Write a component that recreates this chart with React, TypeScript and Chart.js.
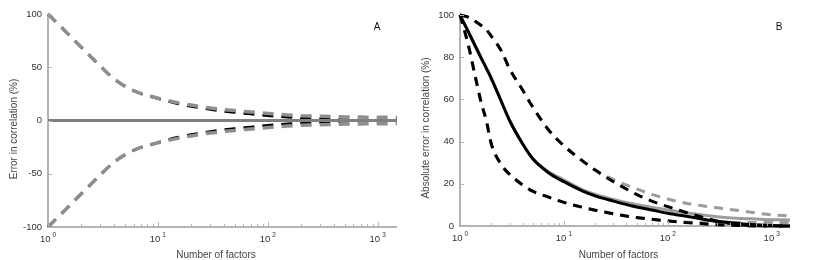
import React, { useEffect, useRef } from 'react';
import { Chart, registerables } from 'chart.js';

Chart.register(...registerables);

// ---------- Panel A data ----------
const factorsA = [1, 1.5, 2, 3, 4, 6, 10, 15, 20, 30, 50, 70, 100, 150, 200, 300, 500, 700, 1000, 1500];
const aMeanError = [0, 0, 0, 0, 0, 0, 0, 0, 0, 0, 0, 0, 0, 0, 0, 0, 0, 0, 0, 0];
const aGrayUpper = [100, 82, 69, 51, 39, 28, 21, 16.8, 14.5, 11.7, 9.3, 8, 6.6, 5.2, 4.5, 3.9, 3.4, 3.2, 3, 2.9];
const aGrayLower = [-100, -82, -69, -51, -39, -28, -21, -16.8, -14.5, -11.7, -9.3, -8, -6.6, -5.2, -4.5, -3.9, -3.4, -3.2, -3, -2.9];
const aBlackUpper = [100, 82, 69, 51, 39, 28, 20.5, 15.8, 13.2, 10.3, 7.4, 6, 4.4, 3.1, 2.4, 1.5, 0.8, 0.5, 0.3, 0.2];
const aBlackLower = [-100, -82, -69, -51, -39, -28, -20.5, -15.8, -13.2, -10.3, -7.4, -6, -4.4, -3.1, -2.4, -1.5, -0.8, -0.5, -0.3, -0.2];
const aYTicks = [-100, -50, 0, 50, 100];

// ---------- Panel B data ----------
const factorsB = [1, 1.2, 1.4, 1.6, 1.8, 2, 2.5, 3, 4, 5, 7, 10, 15, 20, 30, 50, 70, 100, 150, 200, 300, 500, 700, 1000, 1500];
const bMeanBlack = [100, 92.1, 85.4, 79.6, 74.6, 70, 59, 50, 39, 32, 25.5, 21, 16.7, 14.3, 11.8, 9, 7.6, 6, 4.6, 3.6, 2.2, 1.1, 0.6, 0.2, 0];
const bMeanGray = [100, 92.1, 85.4, 79.6, 74.6, 70, 59, 50, 39, 32, 26, 21.8, 17.2, 15, 12.6, 10.2, 8.9, 7.6, 6.3, 5.4, 4.4, 3.6, 3.3, 3.0, 2.9];
const bUpperBlack = [100, 99, 97, 95, 93, 90, 83, 74.5, 64.5, 56.5, 46, 38, 31, 26.5, 21, 15, 11.8, 9.2, 6.4, 4.6, 2.3, 0.5, 0.1, 0, 0];
const bUpperGray = [100, 99, 97, 95, 93, 90, 83, 74.5, 64.5, 56.5, 46, 38, 31, 26.5, 22, 17.6, 15, 12.8, 10.8, 9.8, 8.6, 7.2, 6.2, 5.3, 4.8];
const bLowerBlack = [100, 86, 71, 58.5, 49.5, 39, 29, 24.5, 19.5, 16.5, 13.8, 11.2, 8.9, 7.5, 5.8, 4, 3.2, 2.4, 1.6, 1.2, 0.6, 0.2, 0, 0, 0];
const bLowerGray = [100, 86, 71, 58.5, 49.5, 39, 29, 24.5, 19.5, 16.5, 13.8, 11.2, 8.9, 7.5, 5.8, 4, 3.2, 2.4, 1.9, 1.7, 1.6, 1.6, 1.6, 1.6, 1.6];
const bYTicks = [0, 20, 40, 60, 80, 100];

const xExponents = [0, 1, 2, 3];
const X_MIN = 1;
const X_MAX = 1500;

const AXIS_COLOR = '#b3b3b3';
const LABEL_COLOR = '#333333';
const FONT = '"Liberation Sans", Arial, Helvetica, sans-serif';

const toPoints = (xs: number[], ys: number[]) => xs.map((x, i) => ({ x, y: ys[i] }));

const axisDecor = {
  id: 'axisDecor',
  beforeDatasetsDraw(chart: any) {
    const { ctx, chartArea: a } = chart;
    ctx.save();
    ctx.strokeStyle = AXIS_COLOR;
    ctx.lineWidth = 2;
    ctx.beginPath();
    ctx.moveTo(a.left, a.top);
    ctx.lineTo(a.left, a.bottom);
    ctx.lineTo(a.right, a.bottom);
    ctx.stroke();
    ctx.restore();
  },
  afterDraw(chart: any, _args: any, opts: any) {
    const { ctx, chartArea: a, scales } = chart;
    const xs = scales.x;
    const ys = scales.y;
    ctx.save();
    ctx.strokeStyle = AXIS_COLOR;
    ctx.lineWidth = 1;
    for (let p = 0; p <= 3; p++) {
      for (let m = 1; m <= 9; m++) {
        const v = m * Math.pow(10, p);
        if (v > X_MAX) break;
        const px = Math.round(xs.getPixelForValue(v)) + 0.5;
        const len = m === 1 ? 5 : 3;
        ctx.beginPath();
        ctx.moveTo(px, a.bottom);
        ctx.lineTo(px, a.bottom - len);
        ctx.stroke();
      }
    }
    (opts.yTicks as number[]).forEach((v) => {
      const py = Math.round(ys.getPixelForValue(v)) + 0.5;
      ctx.beginPath();
      ctx.moveTo(a.left, py);
      ctx.lineTo(a.left + 4, py);
      ctx.stroke();
    });
    ctx.fillStyle = LABEL_COLOR;
    ctx.font = `9.5px ${FONT}`;
    ctx.textAlign = 'right';
    ctx.textBaseline = 'middle';
    (opts.yTicks as number[]).forEach((v) => {
      ctx.fillText(String(v), a.left - 6, ys.getPixelForValue(v));
    });
    ctx.textAlign = 'left';
    ctx.textBaseline = 'alphabetic';
    xExponents.forEach((e) => {
      const px = xs.getPixelForValue(Math.pow(10, e));
      ctx.font = `9.5px ${FONT}`;
      const w1 = ctx.measureText('10').width;
      ctx.font = `6.5px ${FONT}`;
      const w2 = ctx.measureText(String(e)).width;
      const gap = 2;
      const start = px - (w1 + gap + w2) / 2;
      ctx.font = `9.5px ${FONT}`;
      ctx.fillText('10', start, a.bottom + 15);
      ctx.font = `6.5px ${FONT}`;
      ctx.fillText(String(e), start + w1 + gap, a.bottom + 10);
    });
    ctx.fillStyle = '#444444';
    ctx.font = `10px ${FONT}`;
    ctx.textAlign = 'center';
    ctx.textBaseline = 'middle';
    ctx.fillText(opts.xTitle, (a.left + a.right) / 2 - 6.5, 255);
    ctx.save();
    ctx.translate(a.left - 34, opts.yTitleY);
    ctx.rotate(-Math.PI / 2);
    ctx.fillText(opts.yTitle, 0, 0);
    ctx.restore();
    ctx.fillStyle = '#111111';
    ctx.font = `10px ${FONT}`;
    ctx.fillText(opts.panel, opts.panelX, 27);
    ctx.restore();
  },
};

function makeLine(xs: number[], ys: number[], color: string, width: number, dash: number[]) {
  return {
    data: toPoints(xs, ys),
    borderColor: color,
    borderWidth: width,
    borderDash: dash,
    pointRadius: 0,
    fill: false,
    cubicInterpolationMode: 'monotone' as const,
    clip: 6,
  };
}

type PanelProps = {
  left: number;
  width: number;
  datasets: any[];
  yMin: number;
  yMax: number;
  yWidth: number;
  padTop: number;
  padRight: number;
  xHeight: number;
  decor: any;
};

function Panel(props: PanelProps) {
  const ref = useRef<HTMLCanvasElement | null>(null);
  useEffect(() => {
    if (!ref.current) return;
    const chart = new Chart(ref.current, {
      type: 'line',
      data: { datasets: props.datasets },
      options: {
        animation: false,
        responsive: false,
        devicePixelRatio: 1,
        layout: { padding: { top: props.padTop, right: props.padRight, left: 0, bottom: 0 } },
        plugins: {
          legend: { display: false },
          tooltip: { enabled: false },
          axisDecor: props.decor,
        } as any,
        scales: {
          x: {
            type: 'logarithmic',
            min: X_MIN,
            max: X_MAX,
            grid: { display: false },
            border: { display: false },
            ticks: { display: false },
            afterFit: (s: any) => {
              s.height = props.xHeight;
            },
          },
          y: {
            type: 'linear',
            min: props.yMin,
            max: props.yMax,
            grid: { display: false },
            border: { display: false },
            ticks: { display: false },
            afterFit: (s: any) => {
              s.width = props.yWidth;
            },
          },
        },
      },
      plugins: [axisDecor],
    });
    return () => chart.destroy();
  }, []);
  return (
    <canvas
      ref={ref}
      width={props.width}
      height={260}
      style={{ position: 'absolute', left: props.left, top: 0, width: props.width, height: 260, display: 'block' }}
    />
  );
}

export default function App() {
  const GRAY_A = '#8e8e8e';
  const GRAY_B = '#9c9c9c';
  const datasetsA = [
    makeLine(factorsA, aMeanError, '#808080', 3, []),
    makeLine(factorsA, aGrayUpper, GRAY_A, 3.5, [11, 8]),
    makeLine(factorsA, aGrayLower, GRAY_A, 3.5, [11, 8]),
    makeLine(factorsA, aBlackUpper, '#000000', 2.5, [11, 8]),
    makeLine(factorsA, aBlackLower, '#000000', 2.5, [11, 8]),
  ];
  const datasetsB = [
    makeLine(factorsB, bMeanBlack, '#000000', 3, []),
    makeLine(factorsB, bUpperBlack, '#000000', 3, [9, 7]),
    makeLine(factorsB, bLowerBlack, '#000000', 3, [9, 7]),
    makeLine(factorsB, bMeanGray, GRAY_B, 3, []),
    makeLine(factorsB, bUpperGray, GRAY_B, 3, [9, 7]),
    makeLine(factorsB, bLowerGray, GRAY_B, 3, [9, 7]),
  ];
  return (
    <div style={{ position: 'absolute', left: 0, top: 0, width: 817, height: 260, background: '#ffffff' }}>
      <Panel
        left={0}
        width={410}
        datasets={datasetsA}
        yMin={-100}
        yMax={100}
        yWidth={48}
        padTop={14}
        padRight={13}
        xHeight={33}
        decor={{
          yTicks: aYTicks,
          xTitle: 'Number of factors',
          yTitle: 'Error in correlation (%)',
          yTitleY: 129,
          panel: 'A',
          panelX: 377,
        }}
      />
      <Panel
        left={410}
        width={407}
        datasets={datasetsB}
        yMin={0}
        yMax={100}
        yWidth={50}
        padTop={15}
        padRight={27}
        xHeight={34}
        decor={{
          yTicks: bYTicks,
          xTitle: 'Number of factors',
          yTitle: 'Absolute error in correlation (%)',
          yTitleY: 128,
          panel: 'B',
          panelX: 369,
        }}
      />
    </div>
  );
}
